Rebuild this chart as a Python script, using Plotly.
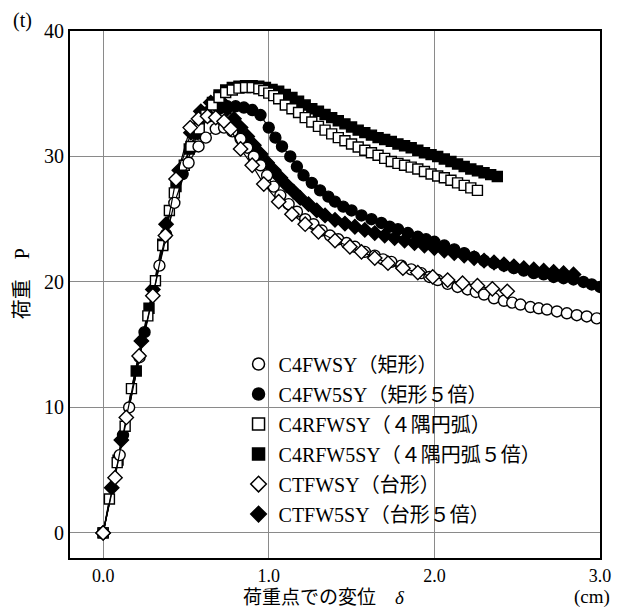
import plotly.graph_objects as go

FONT = "Liberation Serif, 'Noto Sans CJK JP', serif"

# ---- data (δ in cm, P in t) ----
c4fwsy_x = [0, 0.10, 0.157, 0.22, 0.34, 0.43, 0.516, 0.576, 0.62, 0.68, 0.73, 0.78, 0.83, 0.87, 0.91, 0.95, 0.99,
            1.03, 1.07, 1.12, 1.17, 1.22, 1.27, 1.32, 1.37, 1.42, 1.47, 1.52, 1.58, 1.64, 1.69, 1.74, 1.80, 1.86,
            1.92, 1.97, 2.02, 2.08, 2.14, 2.20, 2.25, 2.30, 2.36, 2.42, 2.47, 2.52, 2.58, 2.63, 2.68, 2.74, 2.80,
            2.86, 2.92, 2.98]
c4fwsy_y = [0, 6.2, 10.0, 14.0, 21.3, 26.3, 29.5, 30.8, 31.5, 32.2, 32.3, 32.0, 31.4, 30.7, 30.0, 29.3, 28.5,
            27.6, 26.9, 26.2, 25.6, 25.0, 24.6, 24.1, 23.7, 23.4, 23.1, 22.8, 22.4, 22.1, 21.8, 21.6, 21.3, 21.0,
            20.7, 20.4, 20.15, 19.85, 19.6, 19.4, 19.2, 19.0, 18.7, 18.5, 18.35, 18.2, 18.0, 17.9, 17.8, 17.65, 17.5,
            17.35, 17.25, 17.1]

c4fw5sy_x = [0, 0.12, 0.25, 0.38, 0.48, 0.57, 0.64, 0.70, 0.75, 0.80, 0.85, 0.90, 0.95, 1.00, 1.04, 1.08, 1.13,
             1.17, 1.21, 1.26, 1.31, 1.36, 1.40, 1.45, 1.50, 1.56, 1.62, 1.68, 1.73, 1.78, 1.84, 1.90, 1.95, 2.00,
             2.06, 2.12, 2.18, 2.24, 2.30, 2.36, 2.42, 2.48, 2.54, 2.60, 2.66, 2.72, 2.78, 2.84, 2.90, 2.95, 3.00]
c4fw5sy_y = [0, 7.8, 16.0, 23.8, 28.6, 31.8, 33.2, 33.8, 34.0, 34.0, 33.9, 33.7, 33.3, 32.3, 31.5, 30.8, 30.0,
             29.2, 28.5, 27.9, 27.3, 26.8, 26.4, 26.0, 25.7, 25.3, 25.0, 24.7, 24.4, 24.2, 23.9, 23.6, 23.4, 23.2,
             22.9, 22.6, 22.3, 22.0, 21.7, 21.5, 21.3, 21.1, 20.9, 20.7, 20.6, 20.4, 20.3, 20.2, 20.0, 19.8, 19.6]

c4rfwsy_x = [0, 0.038, 0.085, 0.133, 0.171, 0.27, 0.316, 0.36, 0.40, 0.43, 0.49, 0.53, 0.58, 0.62, 0.66, 0.70,
             0.74, 0.78, 0.82, 0.86, 0.90, 0.94, 0.97, 1.00, 1.03, 1.06, 1.10, 1.14, 1.18, 1.22, 1.26, 1.30, 1.34,
             1.38, 1.42, 1.46, 1.50, 1.54, 1.58, 1.62, 1.66, 1.70, 1.74, 1.78, 1.82, 1.86, 1.90, 1.94, 1.98, 2.02,
             2.06, 2.10, 2.14, 2.18, 2.22, 2.26]
c4rfwsy_y = [0, 2.7, 5.6, 8.5, 11.5, 17.3, 20.1, 22.9, 25.7, 27.1, 29.3, 30.8, 32.2, 33.3, 34.1, 34.7,
             35.1, 35.3, 35.45, 35.5, 35.5, 35.4, 35.25, 35.05, 34.85, 34.6, 34.1, 33.8, 33.5, 33.1, 32.75, 32.4, 32.1,
             31.8, 31.5, 31.25, 31.0, 30.75, 30.5, 30.3, 30.1, 29.85, 29.6, 29.45, 29.3, 29.15, 29.0, 28.8, 28.6, 28.45,
             28.3, 28.1, 27.9, 27.7, 27.5, 27.3]

c4rfw5sy_x = [0, 0.09, 0.20, 0.277, 0.36, 0.44, 0.52, 0.58, 0.62, 0.66, 0.70, 0.74, 0.78, 0.82, 0.86, 0.90, 0.94,
              0.98, 1.02, 1.06, 1.10, 1.14, 1.18, 1.22, 1.26, 1.30, 1.34, 1.38, 1.42, 1.46, 1.50, 1.54, 1.58, 1.62,
              1.66, 1.70, 1.74, 1.78, 1.82, 1.86, 1.90, 1.94, 1.98, 2.02, 2.06, 2.10, 2.14, 2.18, 2.22, 2.26, 2.30,
              2.34, 2.38]
c4rfw5sy_y = [0, 5.8, 12.9, 17.9, 23.0, 27.6, 30.6, 32.5, 33.5, 34.3, 34.9, 35.3, 35.5, 35.6, 35.65, 35.65, 35.6,
              35.5, 35.35, 35.2, 34.95, 34.7, 34.4, 34.1, 33.8, 33.6, 33.35, 33.1, 32.85, 32.6, 32.35, 32.1, 31.9, 31.7,
              31.5, 31.35, 31.2, 31.0, 30.85, 30.7, 30.5, 30.3, 30.15, 30.0, 29.8, 29.6, 29.4, 29.2, 29.0, 28.85, 28.7,
              28.55, 28.4]

ctfwsy_x = [0, 0.072, 0.14, 0.217, 0.30, 0.376, 0.44, 0.526, 0.576, 0.63, 0.68, 0.73, 0.77, 0.83, 0.90, 0.97,
            1.06, 1.14, 1.22, 1.30, 1.40, 1.49, 1.56, 1.64, 1.72, 1.81, 1.90, 1.99, 2.08, 2.17, 2.26, 2.35, 2.44]
ctfwsy_y = [0, 4.4, 9.2, 14.1, 18.9, 23.7, 28.2, 32.3, 33.0, 33.2, 33.1, 32.8, 32.2, 30.6, 29.3, 27.8,
            26.4, 25.4, 24.6, 24.0, 23.3, 22.8, 22.4, 21.9, 21.5, 21.1, 20.75, 20.4, 20.15, 19.9, 19.7, 19.45, 19.25]

ctfw5sy_x = [0, 0.052, 0.11, 0.231, 0.30, 0.38, 0.46, 0.53, 0.59, 0.65, 0.71, 0.75, 0.79, 0.83, 0.87, 0.91, 0.95,
             0.99, 1.03, 1.07, 1.11, 1.15, 1.19, 1.24, 1.29, 1.34, 1.40, 1.46, 1.52, 1.58, 1.64, 1.70, 1.76, 1.82,
             1.88, 1.94, 2.00, 2.06, 2.12, 2.18, 2.24, 2.30, 2.36, 2.42, 2.48, 2.54, 2.60, 2.66, 2.72, 2.78, 2.84]
ctfw5sy_y = [0, 3.6, 7.4, 15.3, 19.4, 24.6, 28.9, 31.9, 33.6, 34.3, 34.4, 33.8, 33.0, 32.3, 31.6, 30.9, 30.2,
             29.5, 28.9, 28.3, 27.7, 27.2, 26.7, 26.2, 25.7, 25.3, 24.95, 24.65, 24.4, 24.15, 23.9, 23.7, 23.5, 23.3,
             23.1, 22.9, 22.7, 22.5, 22.3, 22.1, 21.9, 21.7, 21.55, 21.4, 21.25, 21.1, 21.0, 20.9, 20.8, 20.7, 20.6]

series_names = ["C4FWSY（矩形）", "C4FW5SY（矩形５倍）", "C4RFWSY（４隅円弧）",
                "C4RFW5SY（４隅円弧５倍）", "CTFWSY（台形）", "CTFW5SY（台形５倍）"]
series_x = [c4fwsy_x, c4fw5sy_x, c4rfwsy_x, c4rfw5sy_x, ctfwsy_x, ctfw5sy_x]
series_y = [c4fwsy_y, c4fw5sy_y, c4rfwsy_y, c4rfw5sy_y, ctfwsy_y, ctfw5sy_y]
symbols = ["circle", "circle", "square", "square", "diamond", "diamond"]
fills = ["white", "black", "white", "black", "white", "black"]
sizes = [11, 11, 10, 10, 11, 11]

fig = go.Figure()

order = [3, 1, 5, 2, 0, 4]
for i in order:
    fig.add_trace(go.Scatter(
        x=series_x[i], y=series_y[i], mode="lines+markers",
        line=dict(color="black", width=1.2),
        marker=dict(symbol=symbols[i], size=sizes[i], color=fills[i],
                    line=dict(color="black", width=1.4)),
        showlegend=False, hoverinfo="skip"))

# legend entries (markers only)
for i in range(6):
    fig.add_trace(go.Scatter(
        x=[None], y=[None], mode="markers", name=series_names[i],
        legendgroup=f"g{i}",
        marker=dict(symbol=symbols[i], size=12, color=fills[i],
                    line=dict(color="black", width=1.5)),
        showlegend=True))

# page has an 8px body margin, so the figure is 8px smaller than the window
fig.update_layout(
    width=615, height=600,
    margin=dict(l=62, r=18, t=18, b=50),
    paper_bgcolor="white", plot_bgcolor="white",
    font=dict(family=FONT, size=20, color="black"),
    showlegend=True,
    legend=dict(x=0.318, y=0.405, xanchor="left", yanchor="top",
                bgcolor="rgba(0,0,0,0)", borderwidth=0,
                font=dict(family=FONT, size=20, color="black"),
                traceorder="grouped", tracegroupgap=1,
                itemsizing="trace"),
    xaxis=dict(range=[-0.2, 3.0], dtick=1.0, tick0=0, tickformat=".1f",
               showgrid=True, gridcolor="#8a8a8a", gridwidth=1,
               zeroline=False, showline=True, linecolor="black", linewidth=2,
               mirror=True, ticks="", tickfont=dict(family=FONT, size=18)),
    yaxis=dict(range=[-2, 40], dtick=10, tick0=0,
               showgrid=True, gridcolor="#8a8a8a", gridwidth=1,
               zeroline=False, showline=True, linecolor="black", linewidth=2,
               mirror=True, ticks="", tickfont=dict(family=FONT, size=20)),
    annotations=[
        dict(text="荷重点での変位　<i>δ</i>", x=0.479, y=-0.075, xref="paper", yref="paper",
             xanchor="center", yanchor="middle", showarrow=False, font=dict(family=FONT, size=19)),
        dict(text="(cm)", x=1.022, y=-0.074, xref="paper", yref="paper",
             xanchor="right", yanchor="middle", showarrow=False, font=dict(family=FONT, size=19)),
        dict(text="(t)", x=-0.09, y=1.02, xref="paper", yref="paper",
             xanchor="center", yanchor="middle", showarrow=False, font=dict(family=FONT, size=20)),
        dict(text="荷重　P", x=-0.09, y=0.52, xref="paper", yref="paper",
             xanchor="center", yanchor="middle", textangle=-90, showarrow=False,
             font=dict(family=FONT, size=20)),
    ],
)

fig.write_html("out.html")
